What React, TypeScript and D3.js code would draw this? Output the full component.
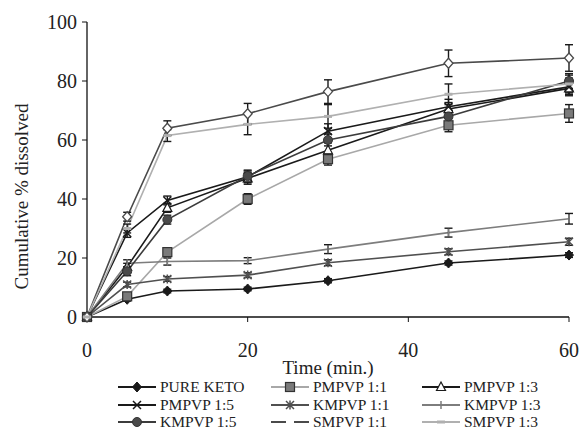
import React from 'react';
import * as d3 from 'd3';

// Sampling times (min.)
const TIMES = [0, 5, 10, 20, 30, 45, 60];

// Cumulative % dissolved
const PURE_KETO = [0, 6, 8.8, 9.5, 12.3, 18.3, 21];
const PMPVP_11 = [0, 7, 22, 40, 53.5, 65, 69];
const PMPVP_13 = [0, 17, 37, 47, 56.5, 70.5, 77.5];
const PMPVP_15 = [0, 28.5, 39.5, 47.5, 63, 71.3, 78];
const KMPVP_11 = [0, 11, 12.9, 14.2, 18.4, 22.1, 25.5];
const KMPVP_13 = [0, 18.2, 18.8, 19.1, 23, 28.6, 33.3];
const KMPVP_15 = [0, 15.5, 33, 47.8, 60, 68, 80];
const SMPVP_11 = [0, 34, 64, 68.9, 76.4, 86, 87.8];
const SMPVP_13 = [0, 30, 61.5, 65.3, 68, 75.5, 79];

// Error bar half-widths (SD)
const ERR_PURE_KETO = [0, 0.6, 0.6, 0.6, 0.7, 0.7, 0.8];
const ERR_PMPVP_11 = [0, 1, 1.5, 1.8, 2, 2.2, 3];
const ERR_PMPVP_13 = [0, 1.2, 1.5, 2, 2.5, 2.2, 2];
const ERR_PMPVP_15 = [0, 1.5, 1.5, 2, 2.5, 2.5, 3];
const ERR_KMPVP_11 = [0, 0.8, 0.8, 0.8, 1, 1, 1.2];
const ERR_KMPVP_13 = [0, 1.2, 1.2, 1, 1.5, 1.5, 1.8];
const ERR_KMPVP_15 = [0, 1.5, 1.5, 2, 2, 2, 2.5];
const ERR_SMPVP_11 = [0, 1.5, 2.5, 3.5, 4, 4.5, 4.5];
const ERR_SMPVP_13 = [0, 1.5, 2, 3.5, 4, 3.5, 3];

const Y_TICKS = [0, 20, 40, 60, 80, 100];
const X_TICKS = [0, 20, 40, 60];

type Mark = 'diamond' | 'diamondOpen' | 'square' | 'triangle' | 'cross' | 'star' | 'vbar' | 'circle' | 'dash';

interface Series {
  name: string;
  values: number[];
  err: number[];
  line: string;
  mark: Mark;
  legendMark: Mark;
  markFill: string;
}

const SERIES: Series[] = [
  { name: 'PURE KETO', values: PURE_KETO, err: ERR_PURE_KETO, line: '#1a1a1a', mark: 'diamond', legendMark: 'diamond', markFill: '#1a1a1a' },
  { name: 'PMPVP 1:1', values: PMPVP_11, err: ERR_PMPVP_11, line: '#a8a8a8', mark: 'square', legendMark: 'square', markFill: '#7a7a7a' },
  { name: 'PMPVP 1:3', values: PMPVP_13, err: ERR_PMPVP_13, line: '#1a1a1a', mark: 'triangle', legendMark: 'triangle', markFill: '#fff' },
  { name: 'PMPVP 1:5', values: PMPVP_15, err: ERR_PMPVP_15, line: '#1a1a1a', mark: 'cross', legendMark: 'cross', markFill: '#1a1a1a' },
  { name: 'KMPVP 1:1', values: KMPVP_11, err: ERR_KMPVP_11, line: '#505050', mark: 'star', legendMark: 'star', markFill: '#505050' },
  { name: 'KMPVP 1:3', values: KMPVP_13, err: ERR_KMPVP_13, line: '#7d7d7d', mark: 'vbar', legendMark: 'vbar', markFill: '#7d7d7d' },
  { name: 'KMPVP 1:5', values: KMPVP_15, err: ERR_KMPVP_15, line: '#3c3c3c', mark: 'circle', legendMark: 'circle', markFill: '#4a4a4a' },
  { name: 'SMPVP 1:1', values: SMPVP_11, err: ERR_SMPVP_11, line: '#4a4a4a', mark: 'diamondOpen', legendMark: 'dash', markFill: '#fff' },
  { name: 'SMPVP 1:3', values: SMPVP_13, err: ERR_SMPVP_13, line: '#b0b0b0', mark: 'dash', legendMark: 'dash', markFill: '#b0b0b0' },
];

const W = 582;
const H = 429;
const FONT = "'Liberation Serif', 'Times New Roman', 'DejaVu Serif', serif";

function Marker({ kind, x, y, color, fill }: { kind: Mark; x: number; y: number; color: string; fill: string }) {
  switch (kind) {
    case 'diamond':
      return <path d={`M${x},${y - 5}L${x + 4.5},${y}L${x},${y + 5}L${x - 4.5},${y}Z`} fill={fill} stroke={color} strokeWidth={1} />;
    case 'diamondOpen':
      return <path d={`M${x},${y - 5}L${x + 4.5},${y}L${x},${y + 5}L${x - 4.5},${y}Z`} fill="#fff" stroke={color} strokeWidth={1.3} />;
    case 'square':
      return <rect x={x - 4.5} y={y - 4.5} width={9} height={9} fill={fill} stroke="#333" strokeWidth={1.2} />;
    case 'triangle':
      return <path d={`M${x},${y - 5}L${x + 4.5},${y + 3.5}L${x - 4.5},${y + 3.5}Z`} fill="#fff" stroke={color} strokeWidth={1.2} />;
    case 'cross':
      return <path d={`M${x - 4},${y - 4}L${x + 4},${y + 4}M${x - 4},${y + 4}L${x + 4},${y - 4}`} stroke={color} strokeWidth={1.5} />;
    case 'star':
      return (
        <path
          d={`M${x - 4},${y - 4}L${x + 4},${y + 4}M${x - 4},${y + 4}L${x + 4},${y - 4}M${x},${y - 4.5}L${x},${y + 4.5}`}
          stroke={color}
          strokeWidth={1.5}
        />
      );
    case 'vbar':
      return <path d={`M${x},${y - 4}L${x},${y + 4}`} stroke={color} strokeWidth={1.5} />;
    case 'circle':
      return <circle cx={x} cy={y} r={4.5} fill={fill} stroke="#333" strokeWidth={1} />;
    case 'dash':
      return <rect x={x - 4} y={y - 1.5} width={8} height={3} fill={fill} />;
  }
}

export default function App() {
  const margin = { left: 87, right: 13, top: 22, bottom: 112 };
  const x = d3.scaleLinear().domain([0, 60]).range([margin.left, W - margin.right]);
  const y = d3.scaleLinear().domain([0, 100]).range([H - margin.bottom, margin.top]);

  const line = d3
    .line<number>()
    .x((_, i) => x(TIMES[i]))
    .y((d) => y(d));

  // legend layout
  const legendCols = [118, 271, 422];
  const legendRows = [387, 405, 422];
  const txt = { fontFamily: FONT };

  return (
    <svg width={W} height={H} style={{ position: 'absolute', left: 0, top: 0, background: '#fff' }}>
      <rect width={W} height={H} fill="#fff" />

      {/* Axes */}
      <line x1={x(0)} x2={x(0)} y1={y(0)} y2={y(100)} stroke="#111" strokeWidth={1.3} />
      <line x1={x(0)} x2={x(60)} y1={y(0)} y2={y(0)} stroke="#111" strokeWidth={1.3} />
      {Y_TICKS.map((t) => (
        <g key={`y${t}`}>
          <line x1={x(0) - 5} x2={x(0)} y1={y(t)} y2={y(t)} stroke="#111" strokeWidth={1} />
          <text x={x(0) - 10} y={y(t)} dy="0.35em" textAnchor="end" fontSize={20} fill="#222" style={txt}>
            {t}
          </text>
        </g>
      ))}
      {X_TICKS.map((t) => (
        <g key={`x${t}`}>
          <line x1={x(t)} x2={x(t)} y1={y(0)} y2={y(0) + 5} stroke="#111" strokeWidth={1} />
          <text x={x(t)} y={y(0) + 40} textAnchor="middle" fontSize={20} fill="#222" style={txt}>
            {t}
          </text>
        </g>
      ))}
      <text x={(x(0) + x(60)) / 2} y={374} textAnchor="middle" fontSize={19} fill="#222" style={txt}>
        Time (min.)
      </text>
      <text
        transform={`translate(28,${(y(0) + y(100)) / 2 + 27}) rotate(-90)`}
        textAnchor="middle"
        fontSize={19}
        fill="#222"
        style={txt}
      >
        Cumulative % dissolved
      </text>

      {/* Lines */}
      {SERIES.map((s) => (
        <path key={`l${s.name}`} d={line(s.values) || ''} fill="none" stroke={s.line} strokeWidth={1.6} />
      ))}

      {/* Error bars */}
      {SERIES.map((s) =>
        s.values.map((v, i) =>
          s.err[i] > 0 ? (
            <g key={`e${s.name}${i}`} stroke="#1a1a1a" strokeWidth={1.4}>
              <line x1={x(TIMES[i])} x2={x(TIMES[i])} y1={y(v - s.err[i])} y2={y(v + s.err[i])} />
              <line x1={x(TIMES[i]) - 4} x2={x(TIMES[i]) + 4} y1={y(v - s.err[i])} y2={y(v - s.err[i])} />
              <line x1={x(TIMES[i]) - 4} x2={x(TIMES[i]) + 4} y1={y(v + s.err[i])} y2={y(v + s.err[i])} />
            </g>
          ) : null
        )
      )}

      {/* Markers */}
      {SERIES.map((s) =>
        s.values.map((v, i) => (
          <Marker key={`m${s.name}${i}`} kind={s.mark} x={x(TIMES[i])} y={y(v)} color={s.line} fill={s.markFill} />
        ))
      )}

      {/* Legend */}
      {SERIES.map((s, i) => {
        const lx = legendCols[i % 3];
        const ly = legendRows[Math.floor(i / 3)];
        return (
          <g key={`lg${s.name}`}>
            <line x1={lx} x2={lx + 38} y1={ly} y2={ly} stroke={s.line} strokeWidth={1.8} />
            <Marker kind={s.legendMark} x={lx + 19} y={ly} color={s.line} fill={s.markFill} />
            <text x={lx + 42} y={ly} dy="0.35em" fontSize={15.5} fill="#222" style={txt}>
              {s.name}
            </text>
          </g>
        );
      })}
    </svg>
  );
}
